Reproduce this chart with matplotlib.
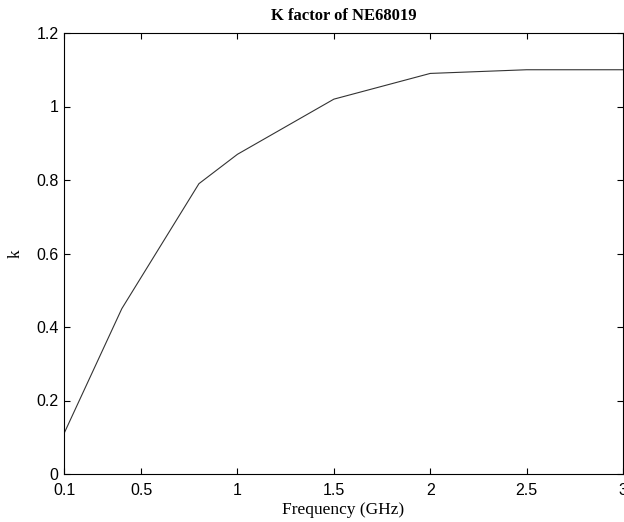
import matplotlib
matplotlib.use("Agg")
import matplotlib.pyplot as plt

# K factor of NE68019 vs frequency
freq_ghz = [0.1, 0.4, 0.8, 1.0, 1.5, 2.0, 2.5, 3.0]
k_factor = [0.11, 0.45, 0.79, 0.87, 1.02, 1.09, 1.10, 1.10]

x_ticks = [0.1, 0.5, 1, 1.5, 2, 2.5, 3]
x_labels = ["0.1", "0.5", "1", "1.5", "2", "2.5", "3"]
y_ticks = [0, 0.2, 0.4, 0.6, 0.8, 1.0, 1.2]
y_labels = ["0", "0.2", "0.4", "0.6", "0.8", "1", "1.2"]

fig = plt.figure(figsize=(6.24, 5.22), dpi=100)
ax = fig.add_axes([64/624, 1-474/522, 559/624, 441/522])

ax.plot(freq_ghz, k_factor, color='#333333', linewidth=0.8)

ax.set_xlim(0.1, 3.0)
ax.set_ylim(0, 1.2)
ax.set_xticks(x_ticks)
ax.set_xticklabels(x_labels, family='Liberation Sans')
ax.set_yticks(y_ticks)
ax.set_yticklabels(y_labels, family='Liberation Sans')
ax.tick_params(direction='in', length=4.5, width=0.8, labelsize=11.5,
               top=True, right=True)
ax.tick_params(axis='x', pad=6.5)
ax.tick_params(axis='y', pad=4)
for s in ax.spines.values():
    s.set_linewidth(0.8)

ax.set_title("K factor of NE68019", family='Liberation Serif', fontweight='bold',
             fontsize=12, pad=9)
ax.set_xlabel("Frequency (GHz)", family='Liberation Serif', fontsize=12.5, labelpad=3)
ax.set_ylabel("k", family='Liberation Serif', fontsize=12.5, labelpad=9)

fig.savefig("out.png", dpi=100)
